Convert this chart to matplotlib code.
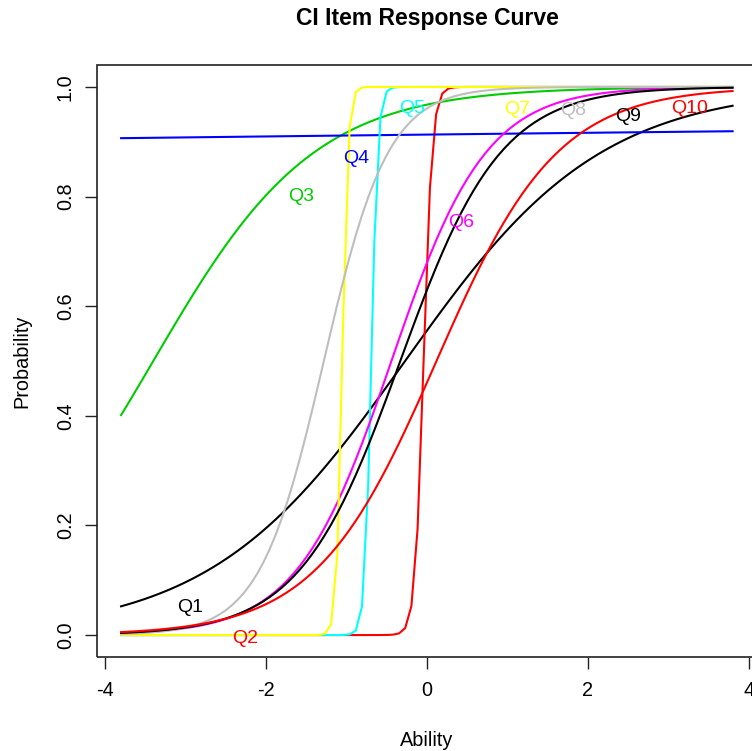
"""
plot.py - item response curves for the CI items (Q1..Q10).
Writes out.png.
"""
import numpy as np
import matplotlib
matplotlib.use("Agg")
import matplotlib.pyplot as plt
from matplotlib.patches import Rectangle

plt.rcParams["font.family"] = ["Liberation Sans", "DejaVu Sans"]
plt.rcParams["axes.unicode_minus"] = False

# ── Item parameters (logistic, no guessing) ─────────────────────────────
ITEMS = ["Q1", "Q2", "Q3", "Q4", "Q5", "Q6", "Q7", "Q8", "Q9", "Q10"]
DISCRIM = [0.82, 19.0, 1.0, 0.021, 25.0, 1.7, 28.0, 2.5, 1.6, 1.33]
DIFFIC = [-0.27, -0.04, -3.4, -112.0, -0.69, -0.44, -1.05, -1.28, -0.33, 0.12]
# R default palette, recycled for Q9/Q10
COLORS = ["#000000", "#FF0000", "#00CD00", "#0000FF", "#00FFFF",
          "#FF00FF", "#FFFF00", "#BEBEBE", "#000000", "#FF0000"]

# ability grid as drawn (100 points over the default z range)
Z_RANGE = (-3.8, 3.8)
N_POINTS = 100
# item labels sit at these grid indices; heights
LABEL_IDX = [10, 19, 28, 37, 46, 54, 63, 72, 81, 90]
LABEL_Y = [0.050, -0.007, 0.800, 0.870, 0.961, 0.752, 0.959, 0.957, 0.946, 0.961]


def icc(z, a, b):
    return 1.0 / (1.0 + np.exp(-a * (z - b)))


def main():
    z = np.linspace(Z_RANGE[0], Z_RANGE[1], N_POINTS)

    fig = plt.figure(figsize=(7.52, 7.51), dpi=100)
    # plot region runs past the right edge, as in the cropped original
    ax = fig.add_axes([0.1285, 0.1252, 0.8782, 0.7882])

    for name, a, b, col in zip(ITEMS, DISCRIM, DIFFIC, COLORS):
        ax.plot(z, icc(z, a, b), color=col, lw=1.5, solid_joinstyle="round")

    for name, idx, ly, col in zip(ITEMS, LABEL_IDX, LABEL_Y, COLORS):
        ax.text(z[idx - 1], ly, name, color=col, fontsize=14,
                ha="left", va="center")

    ax.set_xlim(-4.104, 4.104)
    ax.set_ylim(-0.04, 1.04)
    ax.set_xticks([-4, -2, 0, 2, 4])
    ax.set_yticks([0.0, 0.2, 0.4, 0.6, 0.8, 1.0])
    ax.set_yticklabels(["0.0", "0.2", "0.4", "0.6", "0.8", "1.0"])
    ax.tick_params(direction="out", length=8.6, width=1.0, labelsize=14.3,
                   color="#222222")
    ax.tick_params(axis="x", pad=9)
    ax.tick_params(axis="y", pad=7, labelrotation=90)
    for lbl in ax.get_yticklabels():
        lbl.set_va("center")

    for sp in ax.spines.values():
        sp.set_visible(False)
    ax.add_patch(Rectangle((0, 0), 1, 1, transform=ax.transAxes, fill=False,
                           lw=1.2, edgecolor="#222222", clip_on=False))

    ax.set_xlabel("Ability", fontsize=14.3, labelpad=22)
    ax.set_ylabel("Probability", fontsize=14.3, labelpad=18)
    fig.text(427 / 752, 1 - 19 / 751, "CI Item Response Curve",
             fontsize=16.5, fontweight="bold", ha="center", va="center")

    fig.savefig("out.png", dpi=100)
    plt.close(fig)


if __name__ == "__main__":
    main()
